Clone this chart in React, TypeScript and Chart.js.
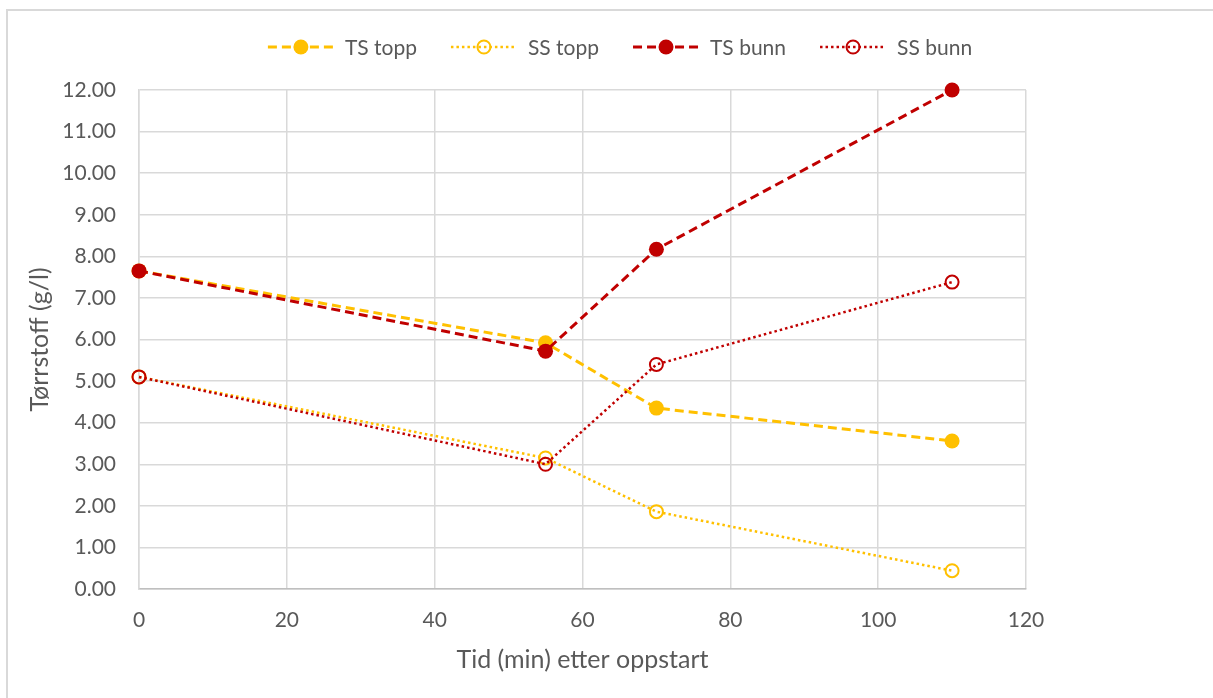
import { useEffect, useRef } from "react";
import { Chart, registerables } from "chart.js";

Chart.register(...registerables);

// ---- data ----
const times = [0, 55, 70, 110];
const tsTopp = [7.65, 5.92, 4.35, 3.56];
const ssTopp = [5.1, 3.15, 1.86, 0.44];
const tsBunn = [7.65, 5.72, 8.17, 12.0];
const ssBunn = [5.1, 3.0, 5.4, 7.38];
const seriesNames = ["TS topp", "SS topp", "TS bunn", "SS bunn"];
const xTitle = "Tid (min) etter oppstart";
const yTitle = "Tørrstoff (g/l)";
const xMin = 0, xMax = 120, xStep = 20;
const yMin = 0, yMax = 12, yStep = 1;

// ---- styles ----
const FONT = "Lato, 'Open Sans', sans-serif";
const YELLOW = "#FFC000";
const RED = "#C00000";
const GRID = "#d9d9d9";
const TEXT = "#595959";
const W = 1213, H = 698;

const toPts = (ys: number[]) => ys.map((y, i) => ({ x: times[i], y }));

const legendPlugin = {
  id: "excelLegend",
  afterDraw(chart: any) {
    const ctx = chart.ctx as CanvasRenderingContext2D;
    const ds = chart.data.datasets as any[];
    ctx.save();
    ctx.font = `21px ${FONT}`;
    ctx.textBaseline = "middle";
    ctx.textAlign = "left";
    const lineLen = 66, gapText = 11, gapItem = 34;
    const widths = ds.map((d) => lineLen + gapText + ctx.measureText(d.label).width);
    const total = widths.reduce((a, b) => a + b, 0) + gapItem * (ds.length - 1);
    let x = 620 - total / 2;
    const y = 47;
    ds.forEach((d, i) => {
      ctx.strokeStyle = d.borderColor;
      ctx.lineWidth = d.borderWidth;
      ctx.setLineDash(d.borderDash || []);
      ctx.beginPath();
      ctx.moveTo(x, y);
      ctx.lineTo(x + lineLen, y);
      ctx.stroke();
      ctx.setLineDash([]);
      ctx.beginPath();
      ctx.arc(x + lineLen / 2, y, d.pointRadius, 0, Math.PI * 2);
      if (d.pointBackgroundColor !== "transparent") {
        ctx.fillStyle = d.pointBackgroundColor;
        ctx.fill();
      } else {
        ctx.strokeStyle = d.pointBorderColor;
        ctx.lineWidth = d.pointBorderWidth;
        ctx.stroke();
      }
      ctx.fillStyle = TEXT;
      ctx.fillText(d.label, x + lineLen + gapText, y + 1);
      x += widths[i] + gapItem;
    });
    ctx.restore();
  },
};

function mkDataset(label: string, ys: number[], color: string, dotted: boolean, filled: boolean, order: number) {
  return {
    label,
    data: toPts(ys),
    borderColor: color,
    borderWidth: dotted ? 2.5 : 3,
    borderDash: dotted ? [2.5, 3] : [9, 5],
    pointRadius: filled ? 7.5 : 6.5,
    pointHoverRadius: filled ? 7.5 : 6.5,
    pointBackgroundColor: filled ? color : "transparent",
    pointBorderColor: color,
    pointBorderWidth: filled ? 0 : 2,
    showLine: true,
    tension: 0,
    fill: false,
    clip: false as any,
    order,
  };
}

export default function App() {
  const ref = useRef<HTMLCanvasElement | null>(null);
  useEffect(() => {
    if (!ref.current) return;
    const chart = new Chart(ref.current, {
      type: "scatter",
      data: {
        datasets: [
          mkDataset(seriesNames[0], tsTopp, YELLOW, false, true, 4),
          mkDataset(seriesNames[1], ssTopp, YELLOW, true, false, 3),
          mkDataset(seriesNames[2], tsBunn, RED, false, true, 2),
          mkDataset(seriesNames[3], ssBunn, RED, true, false, 1),
        ] as any,
      },
      options: {
        animation: false,
        responsive: false,
        devicePixelRatio: 1,
        layout: { padding: { top: 90, right: 187, left: 0, bottom: 0 } },
        plugins: {
          legend: { display: false },
          tooltip: { enabled: false },
        },
        scales: {
          x: {
            type: "linear",
            min: xMin,
            max: xMax,
            afterFit: (s: any) => {
              s.height = 109;
            },
            ticks: {
              stepSize: xStep,
              padding: 19,
              color: TEXT,
              font: { family: FONT, size: 21 },
              maxRotation: 0,
            },
            grid: { color: GRID, lineWidth: 1.5, drawTicks: false },
            border: { color: "#bfbfbf", width: 1.5 },
            title: {
              display: true,
              text: xTitle,
              color: TEXT,
              font: { family: FONT, size: 25 },
              padding: { top: 0, bottom: 23 },
            },
          },
          y: {
            type: "linear",
            min: yMin,
            max: yMax,
            afterFit: (s: any) => {
              s.width = 139;
            },
            ticks: {
              stepSize: yStep,
              padding: 23,
              color: TEXT,
              font: { family: FONT, size: 21 },
              callback: (v: any) => Number(v).toFixed(2),
            },
            grid: { color: GRID, lineWidth: 1.5, drawTicks: false },
            border: { color: GRID, width: 1.5 },
            title: {
              display: true,
              text: yTitle,
              color: TEXT,
              font: { family: FONT, size: 25 },
              padding: { top: 25, bottom: 0 },
            },
          },
        },
      } as any,
      plugins: [legendPlugin],
    });
    return () => chart.destroy();
  }, []);

  return (
    <>
      <div
        style={{
          position: "fixed",
          left: 6,
          top: 9,
          width: W - 6,
          height: H - 9,
          borderTop: "2px solid #d9d9d9",
          borderLeft: "2px solid #d9d9d9",
          boxSizing: "border-box",
          background: "#fff",
        }}
      />
      <canvas
        ref={ref}
        width={W}
        height={H}
        style={{ position: "fixed", left: 0, top: 0, width: W, height: H }}
      />
    </>
  );
}
